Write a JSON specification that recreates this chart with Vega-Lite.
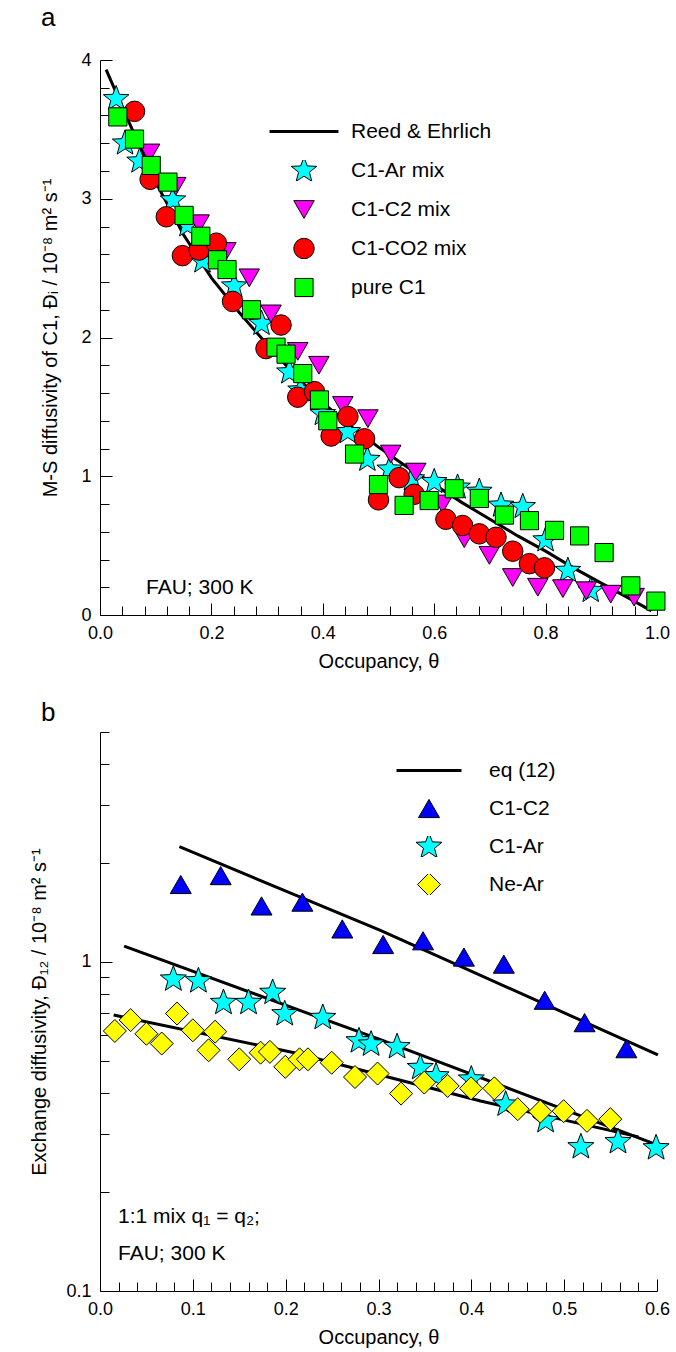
{
  "$schema": "https://vega.github.io/schema/vega-lite/v6.json",
  "padding": {"left": 29, "top": 5, "right": 5, "bottom": 5},
  "spacing": 28,
  "resolve": {"scale": {"fill": "independent", "shape": "independent", "size": "independent", "strokeWidth": "independent"}, "legend": {"shape": "independent", "fill": "independent", "size": "independent", "strokeWidth": "independent"}},
  "config": {
    "font": "Liberation Sans",
    "view": {"stroke": null},
    "axis": {"labelFontSize": 18, "titleFontSize": 20, "labelFont": "Liberation Sans", "titleFont": "Liberation Sans", "titleFontWeight": "normal", "labelColor": "#000", "titleColor": "#000", "domainColor": "#000", "tickColor": "#000", "labelOverlap": false, "labelFlush": false, "grid": false},
    "legend": {"labelFontSize": 21, "labelFont": "Liberation Sans", "labelColor": "#000"},
    "title": {"fontSize": 26, "fontWeight": "normal", "font": "Liberation Sans", "anchor": "start", "color": "#000", "frame": "group", "baseline": "alphabetic"}
  },
  "vconcat": [
    {
      "width": 557,
      "height": 555,
      "title": {"text": "a", "dx": -59, "offset": 20},
      "resolve": {"axis": {"x": "independent", "y": "independent"}},
      "data": {"values": [
        {"s": "Reed & Ehrlich", "t": 0.011, "d": 3.93},
        {"s": "Reed & Ehrlich", "t": 0.05, "d": 3.57},
        {"s": "Reed & Ehrlich", "t": 0.10, "d": 3.12},
        {"s": "Reed & Ehrlich", "t": 0.15, "d": 2.74},
        {"s": "Reed & Ehrlich", "t": 0.20, "d": 2.43},
        {"s": "Reed & Ehrlich", "t": 0.25, "d": 2.18},
        {"s": "Reed & Ehrlich", "t": 0.30, "d": 1.95},
        {"s": "Reed & Ehrlich", "t": 0.35, "d": 1.73},
        {"s": "Reed & Ehrlich", "t": 0.40, "d": 1.53},
        {"s": "Reed & Ehrlich", "t": 0.45, "d": 1.36},
        {"s": "Reed & Ehrlich", "t": 0.50, "d": 1.21},
        {"s": "Reed & Ehrlich", "t": 0.55, "d": 1.07},
        {"s": "Reed & Ehrlich", "t": 0.60, "d": 0.94},
        {"s": "Reed & Ehrlich", "t": 0.65, "d": 0.81},
        {"s": "Reed & Ehrlich", "t": 0.70, "d": 0.69},
        {"s": "Reed & Ehrlich", "t": 0.75, "d": 0.57},
        {"s": "Reed & Ehrlich", "t": 0.80, "d": 0.46},
        {"s": "Reed & Ehrlich", "t": 0.85, "d": 0.34},
        {"s": "Reed & Ehrlich", "t": 0.90, "d": 0.23},
        {"s": "Reed & Ehrlich", "t": 0.95, "d": 0.12},
        {"s": "Reed & Ehrlich", "t": 0.99, "d": 0.03},
        {"s": "C1-Ar mix", "t": 0.029, "d": 3.72},
        {"s": "C1-Ar mix", "t": 0.045, "d": 3.40},
        {"s": "C1-Ar mix", "t": 0.071, "d": 3.27},
        {"s": "C1-Ar mix", "t": 0.131, "d": 2.99},
        {"s": "C1-Ar mix", "t": 0.157, "d": 2.81},
        {"s": "C1-Ar mix", "t": 0.184, "d": 2.55},
        {"s": "C1-Ar mix", "t": 0.241, "d": 2.37},
        {"s": "C1-Ar mix", "t": 0.29, "d": 2.10},
        {"s": "C1-Ar mix", "t": 0.34, "d": 1.75},
        {"s": "C1-Ar mix", "t": 0.36, "d": 1.62},
        {"s": "C1-Ar mix", "t": 0.40, "d": 1.45},
        {"s": "C1-Ar mix", "t": 0.445, "d": 1.32},
        {"s": "C1-Ar mix", "t": 0.48, "d": 1.12},
        {"s": "C1-Ar mix", "t": 0.52, "d": 1.05},
        {"s": "C1-Ar mix", "t": 0.56, "d": 0.98},
        {"s": "C1-Ar mix", "t": 0.60, "d": 0.96},
        {"s": "C1-Ar mix", "t": 0.642, "d": 0.92},
        {"s": "C1-Ar mix", "t": 0.681, "d": 0.89},
        {"s": "C1-Ar mix", "t": 0.72, "d": 0.79},
        {"s": "C1-Ar mix", "t": 0.759, "d": 0.78},
        {"s": "C1-Ar mix", "t": 0.80, "d": 0.54},
        {"s": "C1-Ar mix", "t": 0.84, "d": 0.32},
        {"s": "C1-Ar mix", "t": 0.881, "d": 0.175},
        {"s": "C1-C2 mix", "t": 0.089, "d": 3.33},
        {"s": "C1-C2 mix", "t": 0.136, "d": 3.09},
        {"s": "C1-C2 mix", "t": 0.178, "d": 2.82},
        {"s": "C1-C2 mix", "t": 0.226, "d": 2.62},
        {"s": "C1-C2 mix", "t": 0.268, "d": 2.43},
        {"s": "C1-C2 mix", "t": 0.307, "d": 2.17},
        {"s": "C1-C2 mix", "t": 0.355, "d": 1.90},
        {"s": "C1-C2 mix", "t": 0.393, "d": 1.80},
        {"s": "C1-C2 mix", "t": 0.436, "d": 1.51},
        {"s": "C1-C2 mix", "t": 0.481, "d": 1.415},
        {"s": "C1-C2 mix", "t": 0.522, "d": 1.16},
        {"s": "C1-C2 mix", "t": 0.567, "d": 1.03},
        {"s": "C1-C2 mix", "t": 0.615, "d": 0.80},
        {"s": "C1-C2 mix", "t": 0.654, "d": 0.55},
        {"s": "C1-C2 mix", "t": 0.699, "d": 0.43},
        {"s": "C1-C2 mix", "t": 0.741, "d": 0.27},
        {"s": "C1-C2 mix", "t": 0.786, "d": 0.20},
        {"s": "C1-C2 mix", "t": 0.831, "d": 0.19},
        {"s": "C1-C2 mix", "t": 0.873, "d": 0.175},
        {"s": "C1-C2 mix", "t": 0.917, "d": 0.15},
        {"s": "C1-C2 mix", "t": 0.959, "d": 0.128},
        {"s": "C1-CO2 mix", "t": 0.062, "d": 3.63},
        {"s": "C1-CO2 mix", "t": 0.090, "d": 3.14},
        {"s": "C1-CO2 mix", "t": 0.119, "d": 2.87},
        {"s": "C1-CO2 mix", "t": 0.148, "d": 2.59},
        {"s": "C1-CO2 mix", "t": 0.178, "d": 2.63},
        {"s": "C1-CO2 mix", "t": 0.209, "d": 2.68},
        {"s": "C1-CO2 mix", "t": 0.238, "d": 2.26},
        {"s": "C1-CO2 mix", "t": 0.298, "d": 1.92},
        {"s": "C1-CO2 mix", "t": 0.325, "d": 2.09},
        {"s": "C1-CO2 mix", "t": 0.355, "d": 1.57},
        {"s": "C1-CO2 mix", "t": 0.385, "d": 1.61},
        {"s": "C1-CO2 mix", "t": 0.415, "d": 1.29},
        {"s": "C1-CO2 mix", "t": 0.445, "d": 1.43},
        {"s": "C1-CO2 mix", "t": 0.475, "d": 1.27},
        {"s": "C1-CO2 mix", "t": 0.50, "d": 0.83},
        {"s": "C1-CO2 mix", "t": 0.537, "d": 0.99},
        {"s": "C1-CO2 mix", "t": 0.564, "d": 0.87},
        {"s": "C1-CO2 mix", "t": 0.621, "d": 0.69},
        {"s": "C1-CO2 mix", "t": 0.651, "d": 0.645},
        {"s": "C1-CO2 mix", "t": 0.681, "d": 0.585},
        {"s": "C1-CO2 mix", "t": 0.711, "d": 0.56},
        {"s": "C1-CO2 mix", "t": 0.741, "d": 0.46},
        {"s": "C1-CO2 mix", "t": 0.771, "d": 0.37},
        {"s": "C1-CO2 mix", "t": 0.798, "d": 0.34},
        {"s": "pure C1", "t": 0.032, "d": 3.59},
        {"s": "pure C1", "t": 0.062, "d": 3.43},
        {"s": "pure C1", "t": 0.092, "d": 3.24},
        {"s": "pure C1", "t": 0.122, "d": 3.12},
        {"s": "pure C1", "t": 0.151, "d": 2.88},
        {"s": "pure C1", "t": 0.181, "d": 2.73},
        {"s": "pure C1", "t": 0.211, "d": 2.56},
        {"s": "pure C1", "t": 0.228, "d": 2.49},
        {"s": "pure C1", "t": 0.272, "d": 2.20},
        {"s": "pure C1", "t": 0.316, "d": 1.93},
        {"s": "pure C1", "t": 0.334, "d": 1.88},
        {"s": "pure C1", "t": 0.364, "d": 1.74},
        {"s": "pure C1", "t": 0.394, "d": 1.55},
        {"s": "pure C1", "t": 0.409, "d": 1.40},
        {"s": "pure C1", "t": 0.457, "d": 1.16},
        {"s": "pure C1", "t": 0.50, "d": 0.94},
        {"s": "pure C1", "t": 0.546, "d": 0.79},
        {"s": "pure C1", "t": 0.591, "d": 0.825},
        {"s": "pure C1", "t": 0.636, "d": 0.91},
        {"s": "pure C1", "t": 0.681, "d": 0.84},
        {"s": "pure C1", "t": 0.726, "d": 0.72},
        {"s": "pure C1", "t": 0.771, "d": 0.68},
        {"s": "pure C1", "t": 0.816, "d": 0.61},
        {"s": "pure C1", "t": 0.861, "d": 0.57},
        {"s": "pure C1", "t": 0.905, "d": 0.45},
        {"s": "pure C1", "t": 0.953, "d": 0.21},
        {"s": "pure C1", "t": 0.998, "d": 0.10}
      ]},
      "layer": [
        {
          "transform": [{"filter": "datum.s === 'Reed & Ehrlich'"}],
          "mark": {"type": "line", "color": "#000", "strokeWidth": 3},
          "encoding": {
            "x": {"field": "t", "type": "quantitative", "scale": {"domain": [0, 1], "nice": false},
              "axis": {"orient": "bottom", "title": "Occupancy, θ", "values": [0, 0.2, 0.4, 0.6, 0.8, 1], "format": ".1f",
                "tickSize": -12, "labelPadding": 21, "titlePadding": 9, "labelOverlap": false, "labelFlush": false}},
            "y": {"field": "d", "type": "quantitative", "scale": {"domain": [0, 4], "nice": false},
              "axis": {"orient": "left", "title": "M-S diffusivity of C1, Đᵢ / 10⁻⁸ m² s⁻¹", "values": [0, 1, 2, 3, 4], "format": "d",
                "tickSize": -12, "labelPadding": 21, "titlePadding": 20, "labelOverlap": false, "labelFlush": false}}
          }
        },
        {
          "transform": [{"filter": "datum.s !== 'Reed & Ehrlich'"}],
          "mark": {"type": "point", "filled": true, "stroke": "#000", "opacity": 1},
          "encoding": {
            "x": {"field": "t", "type": "quantitative",
              "axis": {"orient": "bottom", "title": null, "labels": false, "domain": false, "tickSize": -9,
                "values": [0.04,0.08,0.12,0.16,0.24,0.28,0.32,0.36,0.44,0.48,0.52,0.56,0.64,0.68,0.72,0.76,0.84,0.88,0.92,0.96]}},
            "y": {"field": "d", "type": "quantitative",
              "axis": {"orient": "left", "title": null, "labels": false, "domain": false, "tickSize": -9,
                "values": [0.2,0.4,0.6,0.8,1.2,1.4,1.6,1.8,2.2,2.4,2.6,2.8,3.2,3.4,3.6,3.8]}},
            "fill": {"field": "s", "type": "nominal",
              "scale": {"domain": ["Reed & Ehrlich", "C1-Ar mix", "C1-C2 mix", "C1-CO2 mix", "pure C1"], "range": ["#000000", "#00ffff", "#ff00ff", "#ff0000", "#00ff00"]}},
            "size": {"field": "s", "type": "nominal",
              "scale": {"type": "ordinal", "domain": ["Reed & Ehrlich", "C1-Ar mix", "C1-C2 mix", "C1-CO2 mix", "pure C1"], "range": [4761, 720, 420, 420, 330]}},
            "strokeWidth": {"field": "s", "type": "nominal",
              "scale": {"type": "ordinal", "domain": ["Reed & Ehrlich", "C1-Ar mix", "C1-C2 mix", "C1-CO2 mix", "pure C1"], "range": [3, 1, 1, 1, 1]}},
            "shape": {"field": "s", "type": "nominal",
              "scale": {"domain": ["Reed & Ehrlich", "C1-Ar mix", "C1-C2 mix", "C1-CO2 mix", "pure C1"],
                "range": ["stroke", "M0,-1L0.247,-0.34L0.951,-0.309L0.4,0.13L0.588,0.809L0,0.42L-0.588,0.809L-0.4,0.13L-0.951,-0.309L-0.247,-0.34Z", "triangle-down", "circle", "square"]},
              "legend": {"title": null, "orient": "none", "legendX": 168, "legendY": 61, "clipHeight": 21, "labelOffset": 11, "rowPadding": 17, "labelFontSize": 21, "symbolStrokeColor": "#000", "symbolOpacity": 1}}
          }
        },
        {
          "data": {"values": [{"label": "FAU; 300 K"}]},
          "mark": {"type": "text", "align": "left", "baseline": "middle", "fontSize": 21, "font": "Liberation Sans", "color": "#000"},
          "encoding": {"x": {"datum": 0.0826, "type": "quantitative", "axis": null}, "y": {"datum": 0.195, "type": "quantitative", "axis": null}, "text": {"field": "label"}}
        }
      ]
    },
    {
      "width": 557,
      "height": 559,
      "title": {"text": "b", "dx": -59, "offset": 6},
      "resolve": {"axis": {"x": "independent", "y": "independent"}},
      "data": {"values": [
        {"s": "eq (12)", "g": "C1-C2", "t": 0.0855, "d": 2.24},
        {"s": "eq (12)", "g": "C1-C2", "t": 0.3027, "d": 1.245},
        {"s": "eq (12)", "g": "C1-C2", "t": 0.601, "d": 0.522},
        {"s": "eq (12)", "g": "C1-Ar", "t": 0.026, "d": 1.118},
        {"s": "eq (12)", "g": "C1-Ar", "t": 0.227, "d": 0.693},
        {"s": "eq (12)", "g": "C1-Ar", "t": 0.30, "d": 0.584},
        {"s": "eq (12)", "g": "C1-Ar", "t": 0.60, "d": 0.278},
        {"s": "eq (12)", "g": "Ne-Ar", "t": 0.0147, "d": 0.69},
        {"s": "eq (12)", "g": "Ne-Ar", "t": 0.2093, "d": 0.53},
        {"s": "eq (12)", "g": "Ne-Ar", "t": 0.41, "d": 0.378},
        {"s": "eq (12)", "g": "Ne-Ar", "t": 0.58, "d": 0.294},
        {"s": "C1-C2", "t": 0.087, "d": 1.72},
        {"s": "C1-C2", "t": 0.130, "d": 1.83},
        {"s": "C1-C2", "t": 0.174, "d": 1.48},
        {"s": "C1-C2", "t": 0.218, "d": 1.52},
        {"s": "C1-C2", "t": 0.261, "d": 1.26},
        {"s": "C1-C2", "t": 0.305, "d": 1.13},
        {"s": "C1-C2", "t": 0.348, "d": 1.16},
        {"s": "C1-C2", "t": 0.392, "d": 1.035},
        {"s": "C1-C2", "t": 0.435, "d": 0.985},
        {"s": "C1-C2", "t": 0.479, "d": 0.765},
        {"s": "C1-C2", "t": 0.522, "d": 0.654},
        {"s": "C1-C2", "t": 0.567, "d": 0.545},
        {"s": "C1-Ar", "t": 0.079, "d": 0.886},
        {"s": "C1-Ar", "t": 0.106, "d": 0.875},
        {"s": "C1-Ar", "t": 0.133, "d": 0.752},
        {"s": "C1-Ar", "t": 0.160, "d": 0.752},
        {"s": "C1-Ar", "t": 0.186, "d": 0.807},
        {"s": "C1-Ar", "t": 0.199, "d": 0.695},
        {"s": "C1-Ar", "t": 0.240, "d": 0.677},
        {"s": "C1-Ar", "t": 0.279, "d": 0.575},
        {"s": "C1-Ar", "t": 0.292, "d": 0.562},
        {"s": "C1-Ar", "t": 0.320, "d": 0.552},
        {"s": "C1-Ar", "t": 0.345, "d": 0.477},
        {"s": "C1-Ar", "t": 0.362, "d": 0.45},
        {"s": "C1-Ar", "t": 0.400, "d": 0.44},
        {"s": "C1-Ar", "t": 0.437, "d": 0.369},
        {"s": "C1-Ar", "t": 0.480, "d": 0.329},
        {"s": "C1-Ar", "t": 0.518, "d": 0.274},
        {"s": "C1-Ar", "t": 0.558, "d": 0.284},
        {"s": "C1-Ar", "t": 0.599, "d": 0.272},
        {"s": "Ne-Ar", "t": 0.016, "d": 0.617},
        {"s": "Ne-Ar", "t": 0.033, "d": 0.666},
        {"s": "Ne-Ar", "t": 0.050, "d": 0.605},
        {"s": "Ne-Ar", "t": 0.0665, "d": 0.565},
        {"s": "Ne-Ar", "t": 0.083, "d": 0.697},
        {"s": "Ne-Ar", "t": 0.100, "d": 0.62},
        {"s": "Ne-Ar", "t": 0.117, "d": 0.539},
        {"s": "Ne-Ar", "t": 0.124, "d": 0.614},
        {"s": "Ne-Ar", "t": 0.150, "d": 0.506},
        {"s": "Ne-Ar", "t": 0.173, "d": 0.53},
        {"s": "Ne-Ar", "t": 0.183, "d": 0.533},
        {"s": "Ne-Ar", "t": 0.1996, "d": 0.48},
        {"s": "Ne-Ar", "t": 0.215, "d": 0.506},
        {"s": "Ne-Ar", "t": 0.224, "d": 0.506},
        {"s": "Ne-Ar", "t": 0.2496, "d": 0.494},
        {"s": "Ne-Ar", "t": 0.2747, "d": 0.447},
        {"s": "Ne-Ar", "t": 0.299, "d": 0.458},
        {"s": "Ne-Ar", "t": 0.3243, "d": 0.398},
        {"s": "Ne-Ar", "t": 0.3493, "d": 0.43},
        {"s": "Ne-Ar", "t": 0.3745, "d": 0.42},
        {"s": "Ne-Ar", "t": 0.3997, "d": 0.413},
        {"s": "Ne-Ar", "t": 0.4248, "d": 0.413},
        {"s": "Ne-Ar", "t": 0.450, "d": 0.357},
        {"s": "Ne-Ar", "t": 0.4743, "d": 0.351},
        {"s": "Ne-Ar", "t": 0.4995, "d": 0.352},
        {"s": "Ne-Ar", "t": 0.5246, "d": 0.329},
        {"s": "Ne-Ar", "t": 0.5497, "d": 0.333}
      ]},
      "layer": [
        {
          "transform": [{"filter": "datum.s === 'eq (12)'"}],
          "mark": {"type": "line", "color": "#000", "strokeWidth": 3},
          "encoding": {
            "x": {"field": "t", "type": "quantitative", "scale": {"domain": [0, 0.6], "nice": false},
              "axis": {"orient": "bottom", "title": "Occupancy, θ", "values": [0, 0.1, 0.2, 0.3, 0.4, 0.5, 0.6], "format": ".1f",
                "tickSize": -12, "labelPadding": 21, "titlePadding": 9, "labelOverlap": false, "labelFlush": false}},
            "y": {"field": "d", "type": "quantitative", "scale": {"type": "log", "domain": [0.1, 5], "nice": false},
              "axis": {"orient": "left", "title": "Exchange diffusivity, Đ₁₂ / 10⁻⁸ m² s⁻¹", "values": [0.1, 1], "labelExpr": "datum.value < 0.5 ? '0.1' : '1'",
                "tickSize": -12, "labelPadding": 21, "titlePadding": 16, "labelOverlap": false, "labelFlush": false}},
            "detail": {"field": "g"}
          }
        },
        {
          "transform": [{"filter": "datum.s !== 'eq (12)'"}],
          "mark": {"type": "point", "filled": true, "stroke": "#000", "opacity": 1},
          "encoding": {
            "x": {"field": "t", "type": "quantitative",
              "axis": {"orient": "bottom", "title": null, "labels": false, "domain": false, "tickSize": -9,
                "values": [0.02,0.04,0.06,0.08,0.12,0.14,0.16,0.18,0.22,0.24,0.26,0.28,0.32,0.34,0.36,0.38,0.42,0.44,0.46,0.48,0.52,0.54,0.56,0.58]}},
            "y": {"field": "d", "type": "quantitative",
              "axis": {"orient": "left", "title": null, "labels": false, "domain": false, "tickSize": -9,
                "values": [0.2,0.3,0.4,0.5,0.6,0.7,0.8,0.9,2,3,4,5]}},
            "fill": {"field": "s", "type": "nominal",
              "scale": {"domain": ["eq (12)", "C1-C2", "C1-Ar", "Ne-Ar"], "range": ["#000000", "#0000ff", "#00ffff", "#ffff00"]}},
            "size": {"field": "s", "type": "nominal",
              "scale": {"type": "ordinal", "domain": ["eq (12)", "C1-C2", "C1-Ar", "Ne-Ar"], "range": [4225, 440, 750, 529]}},
            "strokeWidth": {"field": "s", "type": "nominal",
              "scale": {"type": "ordinal", "domain": ["eq (12)", "C1-C2", "C1-Ar", "Ne-Ar"], "range": [3, 1, 1, 1]}},
            "shape": {"field": "s", "type": "nominal",
              "scale": {"domain": ["eq (12)", "C1-C2", "C1-Ar", "Ne-Ar"],
                "range": ["stroke", "triangle-up", "M0,-1L0.247,-0.34L0.951,-0.309L0.4,0.13L0.588,0.809L0,0.42L-0.588,0.809L-0.4,0.13L-0.951,-0.309L-0.247,-0.34Z", "diamond"]},
              "legend": {"title": null, "orient": "none", "legendX": 295, "legendY": 28, "clipHeight": 21, "labelOffset": 26, "rowPadding": 16, "labelFontSize": 21, "symbolStrokeColor": "#000", "symbolOpacity": 1}}
          }
        },
        {
          "data": {"values": [{"label": "1:1 mix q₁ = q₂;"}]},
          "mark": {"type": "text", "align": "left", "baseline": "middle", "fontSize": 21, "font": "Liberation Sans", "color": "#000"},
          "encoding": {"x": {"datum": 0.0194, "type": "quantitative", "axis": null}, "y": {"datum": 0.168, "type": "quantitative", "axis": null}, "text": {"field": "label"}}
        },
        {
          "data": {"values": [{"label": "FAU; 300 K"}]},
          "mark": {"type": "text", "align": "left", "baseline": "middle", "fontSize": 21, "font": "Liberation Sans", "color": "#000"},
          "encoding": {"x": {"datum": 0.0194, "type": "quantitative", "axis": null}, "y": {"datum": 0.1295, "type": "quantitative", "axis": null}, "text": {"field": "label"}}
        }
      ]
    }
  ]
}
